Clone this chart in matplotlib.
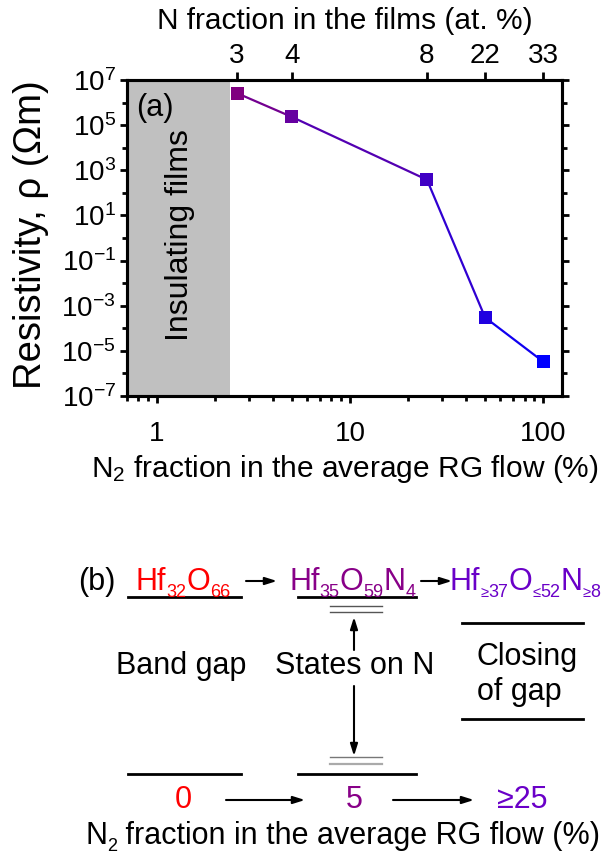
import numpy as np
import matplotlib
matplotlib.use('Agg')
import matplotlib.pyplot as plt
from matplotlib.ticker import FixedLocator, LogFormatterMathtext, NullFormatter, FuncFormatter

plt.rcParams['font.family'] = ['Liberation Sans', 'DejaVu Sans']
plt.rcParams['mathtext.fontset'] = 'custom'
plt.rcParams['mathtext.rm'] = 'Liberation Sans'
plt.rcParams['mathtext.it'] = 'Liberation Sans:italic'
plt.rcParams['mathtext.bf'] = 'Liberation Sans:bold'

# data for panel (a)
n2_flow = [2.6, 5, 25, 50, 100]               # N2 fraction in RG flow (%)
resistivity = [2.6e6, 2.3e5, 3.8e2, 3.0e-4, 3.3e-6]   # Ohm m
n_films = ['3', '4', '8', '22', '33']         # N at. % in the films
point_colors = ['#800080', '#6600a0', '#4000c4', '#2000e0', '#0000ff']
insulating_edge = 2.39

# panel (b) labels: (text, kind) pieces, kind 0 = normal, 1 = subscript, 2 = small sign in subscript
formulas = [
    [('Hf', 0), ('32', 1), ('O', 0), ('66', 1)],
    [('Hf', 0), ('35', 1), ('O', 0), ('59', 1), ('N', 0), ('4', 1)],
    [('Hf', 0), ('≥', 2), ('37', 1), ('O', 0), ('≤', 2), ('52', 1), ('N', 0), ('≥', 2), ('8', 1)],
]
flow_label = [('N', 0), ('2', 1), (' fraction in the average RG flow (%)', 0)]
flow_steps = ['0', '5', '≥25']
step_colors = ['#ff0000', '#880088', '#6a00c8']

W, H = 603, 859
fig = plt.figure(figsize=(W / 100, H / 100), dpi=100)

# ---------------- panel (a) ----------------
ax = fig.add_axes([127 / W, 1 - 396 / H, (562 - 127) / W, (396 - 80) / H])
ax.set_xscale('log')
ax.set_yscale('log')
ax.set_xlim(0.70, 125)
ax.set_ylim(1e-7, 1e7)

ax.axvspan(0.70, insulating_edge, color='#c0c0c0', lw=0, zorder=0)
ax.text(0.122, 0.51, 'Insulating films', rotation=90, transform=ax.transAxes,
        ha='center', va='center', fontsize=23)
ax.text(0.02, 0.96, '(a)', transform=ax.transAxes, ha='left', va='top', fontsize=22)

for i in range(len(n2_flow) - 1):
    c = np.mean([matplotlib.colors.to_rgb(point_colors[i]),
                 matplotlib.colors.to_rgb(point_colors[i + 1])], axis=0)
    ax.plot(n2_flow[i:i + 2], resistivity[i:i + 2], color=c, lw=1.6, zorder=2)
ax.scatter(n2_flow, resistivity, marker='s', s=13 ** 2 * 0.52, c=point_colors, zorder=3, linewidths=0)

ax.yaxis.set_major_locator(FixedLocator(10.0 ** np.arange(-7, 8, 2)))
ax.yaxis.set_minor_locator(FixedLocator(10.0 ** np.arange(-6, 7, 2)))
ax.yaxis.set_major_formatter(LogFormatterMathtext())
ax.yaxis.set_minor_formatter(NullFormatter())
ax.xaxis.set_major_locator(FixedLocator([1, 10, 100]))
ax.xaxis.set_minor_locator(FixedLocator([k * 10.0 ** d for d in (-1, 0, 1) for k in range(2, 10)]))
ax.xaxis.set_major_formatter(FuncFormatter(lambda v, p: '%g' % v))
ax.xaxis.set_minor_formatter(NullFormatter())

ax.tick_params(which='both', direction='out', right=True, width=2.0, labelsize=20)
ax.tick_params(which='major', length=5, pad=3)
ax.tick_params(which='minor', length=3.5)
ax.tick_params(axis='x', which='major', pad=13)
for s in ax.spines.values():
    s.set_linewidth(2.2)

ax.set_ylabel('Resistivity, ρ (Ωm)', fontsize=27.5)
ax.yaxis.set_label_coords(-0.18, 0.51)
ax.set_xlabel('N$_2$ fraction in the average RG flow (%)', fontsize=21.5, labelpad=4)

top = ax.twiny()
top.set_xscale('log')
top.set_xlim(ax.get_xlim())
top.xaxis.set_major_locator(FixedLocator(n2_flow))
top.xaxis.set_minor_locator(FixedLocator([]))
top.set_xticklabels(n_films)
top.tick_params(which='major', direction='out', length=6, width=2.0, labelsize=20, pad=2)
top.set_xlabel('N fraction in the films (at. %)', fontsize=21.5, labelpad=10)
for s in top.spines.values():
    s.set_linewidth(2.2)

# ---------------- panel (b) ----------------
bx = fig.add_axes([0, 0, 1, 1])
bx.set_xlim(0, W)
bx.set_ylim(H, 0)
bx.axis('off')
bx.patch.set_alpha(0)
renderer = fig.canvas.get_renderer()

fs = 22
sub_sizes = {0: fs, 1: 13, 2: 10.5}
sub_drop = {0: 0, 1: 7, 2: 7}


def write_pieces(x, y, pieces, color):
    # y is the baseline of the big letters, in pixels from the top
    for txt, kind in pieces:
        t = bx.text(x, y + sub_drop[kind], txt, ha='left', va='baseline',
                    fontsize=sub_sizes[kind], color=color)
        x += t.get_window_extent(renderer).width
    return x


bx.text(97, 582, '(b)', ha='center', va='center', fontsize=fs)
write_pieces(136, 590, formulas[0], step_colors[0])
write_pieces(289, 590, formulas[1], step_colors[1])
write_pieces(450, 590, formulas[2], step_colors[2])
arrow = dict(arrowstyle='-|>,head_length=0.7,head_width=0.22', color='k', lw=1.5, shrinkA=0, shrinkB=0)
bx.annotate('', xy=(277, 581), xytext=(246, 581), arrowprops=arrow)
bx.annotate('', xy=(452, 581), xytext=(421, 581), arrowprops=arrow)

# levels
bx.plot([128, 241], [597, 597], color='k', lw=2)
bx.plot([298, 416], [597, 597], color='k', lw=2)
bx.plot([330, 382], [606, 606], color='#555555', lw=1)
bx.plot([330, 382], [612, 612], color='#555555', lw=1)
bx.plot([128, 241], [774, 774], color='k', lw=2)
bx.plot([298, 416], [774, 774], color='k', lw=2)
bx.plot([330, 382], [757, 757], color='#777777', lw=1)
bx.plot([330, 382], [764, 764], color='#aaaaaa', lw=1.6)
bx.plot([462, 583], [623, 623], color='k', lw=2)
bx.plot([462, 583], [719, 719], color='k', lw=2)

bx.annotate('', xy=(354, 617), xytext=(354, 650), arrowprops=arrow)
bx.annotate('', xy=(354, 756), xytext=(354, 686), arrowprops=arrow)

bx.text(181, 666, 'Band gap', ha='center', va='center', fontsize=fs)
bx.text(355, 666, 'States on N', ha='center', va='center', fontsize=fs)
bx.text(477, 657, 'Closing', ha='left', va='center', fontsize=fs)
bx.text(477, 692, 'of gap', ha='left', va='center', fontsize=fs)

step_x = [183, 354, 522]
for x, lab, c in zip(step_x, flow_steps, step_colors):
    bx.text(x, 800, lab, ha='center', va='center', fontsize=fs, color=c)
bx.annotate('', xy=(305, 800), xytext=(226, 800), arrowprops=arrow)
bx.annotate('', xy=(474, 800), xytext=(393, 800), arrowprops=arrow)
write_pieces(85, 844, flow_label, 'k')

fig.savefig('out.png', dpi=100)
